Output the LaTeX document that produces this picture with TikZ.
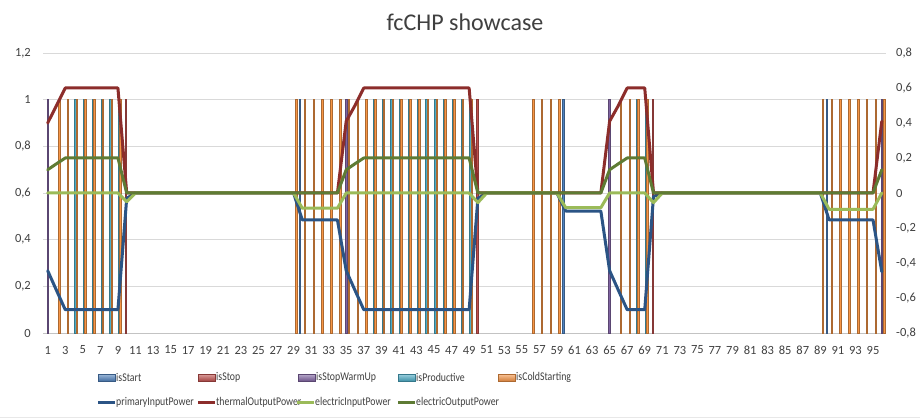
\documentclass[tikz,border=0pt]{standalone}
\usepackage{fontspec}
\setmainfont{Carlito}
\definecolor{cStart}{HTML}{4F81BD}
\definecolor{cStop}{HTML}{C0504D}
\definecolor{cWarm}{HTML}{8064A2}
\definecolor{cProd}{HTML}{4BACC6}
\definecolor{cCold}{HTML}{F79646}
\definecolor{cPrim}{HTML}{2B5485}
\definecolor{cTherm}{HTML}{8C2D2B}
\definecolor{cEIn}{HTML}{9BBB59}
\definecolor{cEOut}{HTML}{5E7B34}
\definecolor{gridc}{HTML}{D9D9D9}
\definecolor{txtc}{HTML}{404040}
\tikzset{
  gridline/.style={draw=gridc, line width=0.8pt},
  axisline/.style={draw=gridc!90!black, line width=0.8pt},
  serline/.style={line width=3pt, line join=round, line cap=round},
  axlab/.style={text=txtc, font=\fontsize{12.5}{14}\selectfont, inner sep=0pt},
  leglab/.style={text=txtc, font=\fontsize{11.8}{13}\selectfont, inner sep=0pt, anchor=west},
}
\newcommand\mycol[3]{\filldraw[fill=#1, draw=#1!70!black, line width=0.4pt] ({#3+#2/8.78-0.09},-0.8) rectangle ({#3+#2/8.78+0.09},0.5333);}
\newcommand\legbox[3]{\shade[top color=#1!55!white, bottom color=#1!85!black, draw=#1!70!black, line width=0.4pt] (#2,374) rectangle (#2+17,381);
  \node[leglab] at (#2+18,377.5) {\scalebox{0.83}[1]{#3}};}
\newcommand\legline[3]{\draw[#1, line width=3pt] (#2,402) -- (#2+17,402);
  \node[leglab] at (#2+18,402) {\scalebox{0.83}[1]{#3}};}
\begin{document}
\begin{tikzpicture}[x=1pt,y=-1pt]
\useasboundingbox (0,0) rectangle (920,419);
\fill[white] (0,0) rectangle (920,419);
\draw[draw=gridc!60] (0,417.5) -- (920,417.5);
% title
\node[text=txtc, font=\fontsize{24}{29}\selectfont, inner sep=0pt] (title) at (465,22) {fcCHP showcase};
% grid
\foreach \yy in {53,99.67,146.33,193,239.67,286.33} \draw[gridline] (43.3,\yy) -- (886,\yy);
\draw[axisline] (43.3,333) -- (886,333);
% left axis labels
\foreach \v/\t in {0/0, 0.2/{0,2}, 0.4/{0,4}, 0.6/{0,6}, 0.8/{0,8}, 1/1, 1.2/{1,2}}
  \node[axlab, anchor=east] at (31,{333-233.33*\v}) {\t};
% right axis labels
\foreach \v/\t in {0.8/{0,8}, 0.6/{0,6}, 0.4/{0,4}, 0.2/{0,2}, 0/0, -0.2/{-0,2}, -0.4/{-0,4}, -0.6/{-0,6}, -0.8/{-0,8}}
  \node[axlab, anchor=west] at (896,{193-175*\v}) {\t};
% x labels
\foreach \i in {1,3,...,95}
  \node[axlab] at ({43.3+(\i-0.5)*8.78},350) {\i};
% data
\begin{scope}[shift={(38.91pt,-193pt)}, x=8.78pt, y=175pt]
  \foreach \c in {30,60,90} {\mycol{cStart}{-2.5}{\c}}
  \foreach \c in {10,50,70} {\mycol{cStop}{-1.0}{\c}}
  \foreach \c in {1,35,65,96} {\mycol{cWarm}{-0.2}{\c}}
  \foreach \c in {4,...,9,38,39,...,49,68,69} {\mycol{cProd}{1.2}{\c}}
  \foreach \c in {2,...,9,29,30,...,49,56,57,58,59,66,67,68,69,89,90,...,96} {\mycol{cCold}{2.5}{\c}}
  \draw[serline, cPrim] plot coordinates {(1,-0.444) (2,-0.556) (3,-0.667) (9,-0.667) (10,-0.03) (11,0) (29,0) (30,-0.154) (34,-0.154) (35,-0.444) (36,-0.556) (37,-0.667) (49,-0.667) (50,-0.03) (51,0) (59,0) (60,-0.103) (64,-0.103) (65,-0.444) (66,-0.556) (67,-0.667) (69,-0.667) (70,-0.02) (71,0) (89,0) (90,-0.154) (95,-0.154) (96,-0.45)};
  \draw[serline, cTherm] plot coordinates {(1,0.4) (2,0.5) (3,0.6) (9,0.6) (10,0) (34,0) (35,0.41) (36,0.5) (37,0.6) (49,0.6) (50,0) (64,0) (65,0.41) (66,0.5) (67,0.6) (69,0.6) (70,0) (95,0) (96,0.41)};
  \draw[serline, cEIn] plot coordinates {(1,0) (9,0) (10,-0.05) (11,0) (29,0) (30,-0.087) (34,-0.087) (35,0) (49,0) (50,-0.055) (51,0) (59,0) (60,-0.084) (64,-0.084) (65,0) (69,0) (70,-0.055) (71,0) (89,0) (90,-0.093) (95,-0.093) (96,0)};
  \draw[serline, cEOut] plot coordinates {(1,0.133) (2,0.167) (3,0.2) (9,0.2) (10,0) (34,0) (35,0.133) (36,0.167) (37,0.2) (49,0.2) (50,0) (64,0) (65,0.133) (66,0.167) (67,0.2) (69,0.2) (70,0) (95,0) (96,0.133)};
\end{scope}
% legend
\legbox{cStart}{98}{isStart}
\legbox{cStop}{198}{isStop}
\legbox{cWarm}{298}{isStopWarmUp}
\legbox{cProd}{398}{isProductive}
\legbox{cCold}{498}{isColdStarting}
\legline{cPrim}{98}{primaryInputPower}
\legline{cTherm}{198}{thermalOutputPower}
\legline{cEIn}{297}{electricInputPower}
\legline{cEOut}{398}{electricOutputPower}
\end{tikzpicture}
\end{document}
